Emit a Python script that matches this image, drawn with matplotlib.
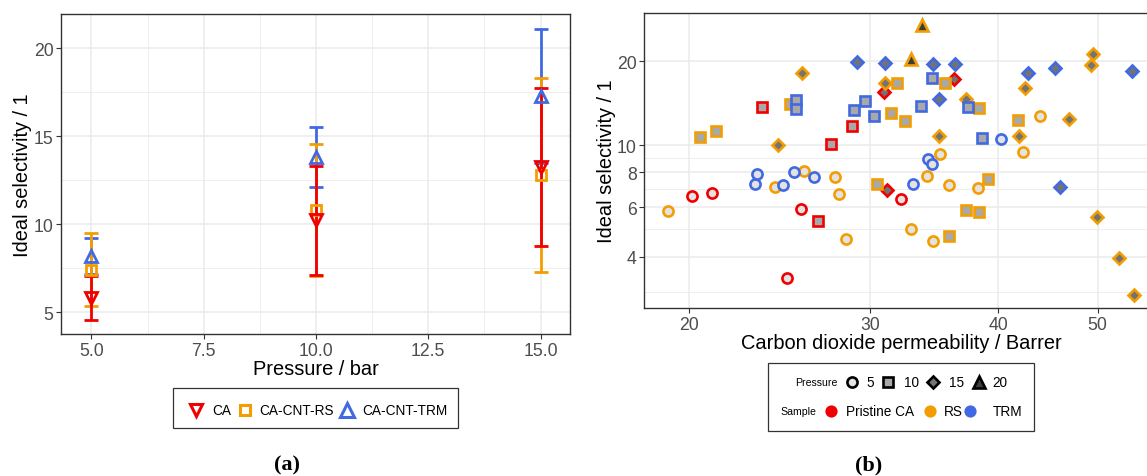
import matplotlib
matplotlib.use("Agg")
import matplotlib.pyplot as plt
from matplotlib.patches import Rectangle
from matplotlib.ticker import FixedLocator, NullLocator, FixedFormatter

plt.rcParams['font.family'] = ['Liberation Sans', 'DejaVu Sans']

# ---------------- Panel (a) data ----------------
pressure_a = [5.0, 10.0, 15.0]
ca_mean = [5.82, 10.23, 13.24]
ca_err = [1.26, 3.10, 4.49]
rs_mean = [7.42, 10.83, 12.80]
rs_err = [2.07, 3.75, 5.53]
trm_mean = [8.20, 13.82, 17.30]
trm_err = [1.04, 1.68, 3.80]
a_labels = ["CA", "CA-CNT-RS", "CA-CNT-TRM"]
a_xticks = [5.0, 7.5, 10.0, 12.5, 15.0]
a_yticks = [5, 10, 15, 20]

# ---------------- Panel (b) data ----------------
# Pristine CA
ca_perm = [20.13, 21.04, 25.68, 24.89, 32.16, 23.54, 27.50, 28.79, 26.69, 30.96, 36.23, 31.19]
ca_sel = [6.59, 6.73, 5.92, 3.36, 6.40, 13.75, 10.11, 11.72, 5.37, 15.55, 17.20, 6.93]
ca_pres = [5, 5, 5, 5, 5, 10, 10, 10, 10, 15, 15, 15]
# RS
rs_perm = [19.06, 24.25, 25.87, 27.76, 27.99, 28.40, 32.89, 34.12, 34.56, 35.10, 35.84, 38.20, 42.27, 43.90,
           20.49, 21.23, 25.08, 31.87, 35.51, 31.43, 32.46, 38.33, 41.84, 30.48, 39.06, 37.25, 38.29, 35.84,
           24.38, 25.75, 31.05, 37.19, 35.02, 41.91, 42.52, 46.87, 49.50, 49.21, 49.89, 52.41, 54.27,
           33.74, 32.89]
rs_sel = [5.84, 7.10, 8.12, 7.73, 6.72, 4.64, 5.04, 7.77, 4.55, 9.29, 7.20, 7.06, 9.46, 12.72,
          10.71, 11.22, 14.09, 16.64, 16.64, 13.09, 12.25, 13.55, 12.31, 7.27, 7.56, 5.88, 5.75, 4.72,
          10.00, 18.12, 16.69, 14.69, 10.80, 10.80, 16.06, 12.46, 21.14, 19.31, 5.55, 3.97, 2.91,
          26.83, 20.28]
rs_pres = [5] * 14 + [10] * 14 + [15] * 13 + [20] * 2
# TRM
trm_perm = [23.19, 23.29, 24.66, 25.31, 26.46, 33.07, 34.20, 34.48, 40.21,
            25.41, 25.41, 28.96, 29.63, 30.27, 34.46, 33.66, 37.41, 38.55,
            29.16, 31.05, 34.56, 36.34, 35.02, 42.81, 45.45, 54.02, 45.98]
trm_sel = [7.27, 7.92, 7.21, 8.05, 7.73, 7.27, 8.91, 8.60, 10.57,
           14.52, 13.52, 13.41, 14.36, 12.76, 17.39, 13.79, 13.67, 10.59,
           19.84, 19.68, 19.47, 19.47, 14.69, 18.07, 18.84, 18.49, 7.10]
trm_pres = [5] * 9 + [10] * 9 + [15] * 9
b_xticks = [20, 30, 40, 50]
b_yticks = [4, 6, 8, 10, 20]
b_yminor = [3, 5, 7, 9]
pressure_levels = [5, 10, 15, 20]
sample_names = ["Pristine CA", "RS", "TRM"]

# ---------------- styles ----------------
RED = '#F00000'
ORANGE = '#F29E02'
BLUE = '#4169E1'
GRID = '#EBEBEB'
BORDER = '#333333'
TICKTXT = '#4D4D4D'
shape_of = {5: 'o', 10: 's', 15: 'D', 20: '^'}
fill_of = {5: '#E3E3E3', 10: '#A8A8A8', 15: '#737373', 20: '#3C3C3C'}
size_of = {5: 7.3, 10: 7.0, 15: 6.0, 20: 8.6}

W, H = 1147, 477
fig = plt.figure(figsize=(W / 100, H / 100), dpi=100)


def px_axes(l, t, r, b):
    return fig.add_axes([l / W, 1 - b / H, (r - l) / W, (b - t) / H])


def style_axes(ax):
    for s in ax.spines.values():
        s.set_color(BORDER)
        s.set_linewidth(1.0)
    ax.tick_params(which='major', length=3.8, width=0.8, color=BORDER,
                   labelcolor=TICKTXT, labelsize=12.7, pad=1.8)
    ax.tick_params(which='minor', length=0)
    ax.grid(True, which='major', color=GRID, linewidth=1.1, zorder=0)
    ax.grid(True, which='minor', color=GRID, linewidth=0.6, zorder=0)
    ax.set_axisbelow(True)


# ---------------- Panel (a) ----------------
A_L, A_T, A_R, A_B = 61.4, 15.3, 569.7, 335
axA = px_axes(A_L, A_T, A_R, A_B)
style_axes(axA)
groups_a = [
    (trm_mean, trm_err, BLUE, '^', 9.0),
    (rs_mean, rs_err, ORANGE, 's', 7.5),
    (ca_mean, ca_err, RED, 'v', 8.6),
]
for mean, err, col, mk, ms in groups_a:
    axA.errorbar(pressure_a, mean, yerr=err, fmt='none', ecolor=col,
                 elinewidth=2.0, capsize=5.3, capthick=2.0, zorder=3)
for mean, err, col, mk, ms in groups_a:
    axA.plot(pressure_a, mean, linestyle='none', marker=mk, ms=ms,
             mfc='none', mec=col, mew=2.0, zorder=4)
axA.set_xlim(4.332, 15.65)
axA.set_ylim(3.77, 21.93)
axA.set_xticks(a_xticks)
axA.set_xticklabels([f"{v:.1f}" for v in a_xticks])
axA.set_yticks(a_yticks)
axA.xaxis.set_minor_locator(FixedLocator([6.25, 8.75, 11.25, 13.75]))
axA.yaxis.set_minor_locator(FixedLocator([7.5, 12.5, 17.5]))
axA.set_xlabel("Pressure / bar", fontsize=14.4, va='baseline')
axA.xaxis.set_label_coords(0.5, (A_B - 375) / (A_B - A_T))
axA.set_ylabel("Ideal selectivity / 1", fontsize=14.4, va='center')
axA.yaxis.set_label_coords((23 - A_L) / (A_R - A_L), 0.5)

# ---------------- Panel (b) ----------------
B_L, B_T, B_R, B_B = 644.4, 14, 1157.6, 309
axB = px_axes(B_L, B_T, B_R, B_B)
style_axes(axB)
axB.set_xscale('log')
axB.set_yscale('log')
for perm, sel, pres, col in [(ca_perm, ca_sel, ca_pres, RED),
                             (rs_perm, rs_sel, rs_pres, ORANGE),
                             (trm_perm, trm_sel, trm_pres, BLUE)]:
    for p in pressure_levels:
        xs = [x for x, q in zip(perm, pres) if q == p]
        ys = [y for y, q in zip(sel, pres) if q == p]
        if xs:
            axB.plot(xs, ys, linestyle='none', marker=shape_of[p], ms=size_of[p],
                     mfc=fill_of[p], mec=col, mew=1.9, zorder=3)
axB.set_xlim(18.08, 57.2)
axB.set_ylim(2.62, 29.7)
axB.xaxis.set_major_locator(FixedLocator(b_xticks))
axB.xaxis.set_major_formatter(FixedFormatter([str(v) for v in b_xticks]))
axB.xaxis.set_minor_locator(NullLocator())
axB.yaxis.set_major_locator(FixedLocator(b_yticks))
axB.yaxis.set_major_formatter(FixedFormatter([str(v) for v in b_yticks]))
axB.yaxis.set_minor_locator(FixedLocator(b_yminor))
axB.yaxis.set_minor_formatter(FixedFormatter([""] * len(b_yminor)))
axB.set_xlabel("Carbon dioxide permeability / Barrer", fontsize=14.4, va='baseline')
axB.xaxis.set_label_coords((901 - B_L) / (B_R - B_L), (B_B - 349.3) / (B_B - B_T))
axB.set_ylabel("Ideal selectivity / 1", fontsize=14.4, va='center')
axB.yaxis.set_label_coords((607 - B_L) / (B_R - B_L), 0.5)

# ---------------- Legends & captions (pixel overlay) ----------------
ov = fig.add_axes([0, 0, 1, 1], zorder=5)
ov.set_xlim(0, W)
ov.set_ylim(H, 0)
ov.axis('off')
ov.patch.set_visible(False)

# legend (a)
ov.add_patch(Rectangle((172.7, 389.3), 458.3 - 172.7, 429.3 - 389.3, fill=False,
                       edgecolor=BORDER, linewidth=0.9))
ya = 410.7
for xm, xt, mk, col, ms, lab in [(195.7, 212.7, 'v', RED, 9.0, a_labels[0]),
                                 (245.0, 259.3, 's', ORANGE, 7.5, a_labels[1]),
                                 (347.3, 362.3, '^', BLUE, 10.0, a_labels[2])]:
    ov.plot([xm], [ya], marker=mk, ms=ms, mfc='none', mec=col, mew=2.2, linestyle='none')
    ov.text(xt, ya, lab, fontsize=9.8, va='center', ha='left', color='black')

# legend (b)
ov.add_patch(Rectangle((768.3, 364), 1034 - 768.3, 431.7 - 364, fill=False,
                       edgecolor=BORDER, linewidth=0.9))
y1, y2 = 383.3, 411.7
ov.text(795, y1, "Pressure", fontsize=7.6, va='center', ha='left')
for xm, xt, p in [(852.3, 866.7, 5), (888.3, 904, 10), (933.3, 949, 15), (979, 992.3, 20)]:
    ov.plot([xm], [y1], marker=shape_of[p], ms=size_of[p], mfc=fill_of[p], mec='black',
            mew=1.9, linestyle='none')
    ov.text(xt, y1, str(p), fontsize=9.8, va='center', ha='left')
ov.text(780.7, y2, "Sample", fontsize=7.6, va='center', ha='left')
for xm, xt, col, lab in [(831, 846, RED, sample_names[0]), (930, 944.3, ORANGE, sample_names[1]),
                         (970, 992.3, BLUE, sample_names[2])]:
    ov.plot([xm], [y2], marker='o', ms=8.8, mfc=col, mec=col, mew=0, linestyle='none')
    ov.text(xt, y2, lab, fontsize=9.8, va='center', ha='left')

# captions
ov.text(286.7, 465, "(a)", fontsize=16, fontweight='bold', family='Liberation Serif',
        ha='center', va='center')
ov.text(868.5, 465, "(b)", fontsize=16, fontweight='bold', family='Liberation Serif',
        ha='center', va='center')

fig.savefig("out.png", dpi=100)
